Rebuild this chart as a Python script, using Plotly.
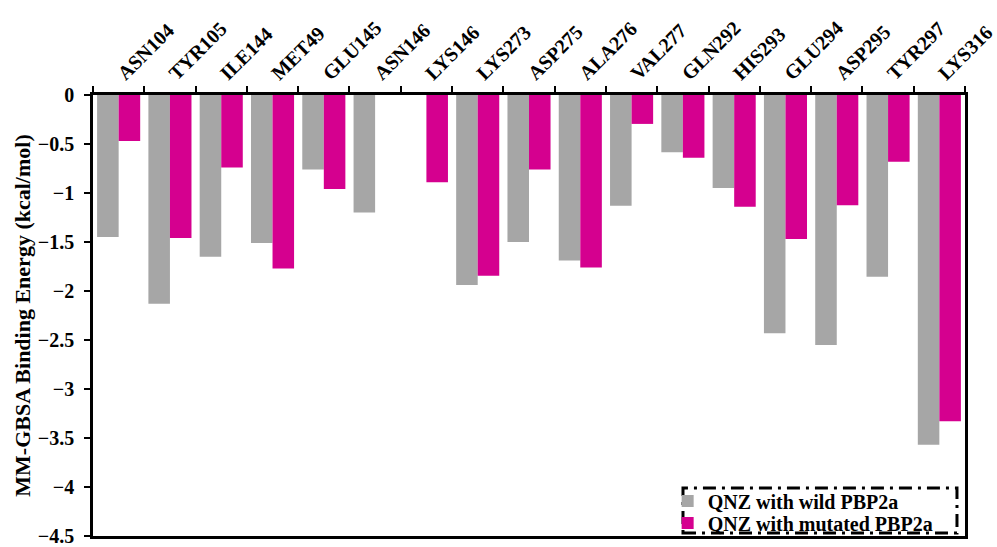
import plotly.graph_objects as go

residues = ["ASN104", "TYR105", "ILE144", "MET49", "GLU145", "ASN146", "LYS146",
            "LYS273", "ASP275", "ALA276", "VAL277", "GLN292", "HIS293", "GLU294",
            "ASP295", "TYR297", "LYS316"]

# MM-GBSA per-residue binding energy (kcal/mol)
wild_energy = [-1.45, -2.13, -1.65, -1.51, -0.76, -1.20, 0.0,
               -1.94, -1.50, -1.69, -1.13, -0.585, -0.95, -2.43,
               -2.55, -1.855, -3.57]
mutated_energy = [-0.47, -1.46, -0.74, -1.77, -0.96, 0.0, -0.89,
                  -1.845, -0.76, -1.76, -0.295, -0.64, -1.14, -1.47,
                  -1.125, -0.68, -3.33]

y_ticks = [0, -0.5, -1, -1.5, -2, -2.5, -3, -3.5, -4, -4.5]

FONT = "Liberation Serif"
GRAY = "#A6A6A6"
MAGENTA = "#D5008F"

fig = go.Figure()
fig.add_trace(go.Bar(x=residues, y=wild_energy, name="<b>QNZ with wild PBP2a</b>",
                     marker=dict(color=GRAY, line=dict(width=0)), legend="legend"))
fig.add_trace(go.Bar(x=residues, y=mutated_energy, name="<b>QNZ with mutated PBP2a</b>",
                     marker=dict(color=MAGENTA, line=dict(width=0)), legend="legend2"))

legend_style = dict(xanchor="left", yanchor="middle", bgcolor="rgba(0,0,0,0)",
                    borderwidth=0, itemwidth=30,
                    font=dict(family=FONT, size=20, color="black"))

fig.update_layout(
    width=997, height=547,
    margin=dict(l=93, r=32, t=95, b=11, autoexpand=False),
    paper_bgcolor="white", plot_bgcolor="white",
    barmode="group", bargap=0.16, bargroupgap=0,
    font=dict(family=FONT, color="black", size=20),
    showlegend=True,
    legend=dict(x=0.659, y=0.0794, **legend_style),
    legend2=dict(x=0.659, y=0.0295, **legend_style),
)

fig.update_xaxes(
    side="top", tickangle=-45, tickson="boundaries",
    ticks="outside", ticklen=6, tickwidth=2, tickcolor="black",
    showline=True, linewidth=2.5, linecolor="black", mirror=True,
    showgrid=False, zeroline=False, automargin=False,
    tickfont=dict(family=FONT, size=20, color="black", weight="bold"),
)
fig.update_yaxes(
    range=[-4.5, 0], tickvals=y_ticks,
    ticks="outside", ticklen=6, tickwidth=2, tickcolor="black",
    ticklabelstandoff=6, ticklabeloverflow="allow",
    showline=True, linewidth=2.5, linecolor="black", mirror=True,
    showgrid=False, zeroline=False, automargin=False,
    tickfont=dict(family=FONT, size=20, color="black", weight="bold"),
    title=dict(text="<b>MM-GBSA Binding Energy (kcal/mol)</b>",
               font=dict(family=FONT, size=22, color="black"), standoff=2),
)

# dash-dot frame around the legend
fig.add_shape(type="rect", xref="paper", yref="paper",
              x0=0.6766, x1=0.9908, y0=0.0068, y1=0.1088,
              line=dict(color="black", width=3, dash="13px,6px,3px,6px"),
              fillcolor="rgba(0,0,0,0)")

fig.write_html("out.html")
